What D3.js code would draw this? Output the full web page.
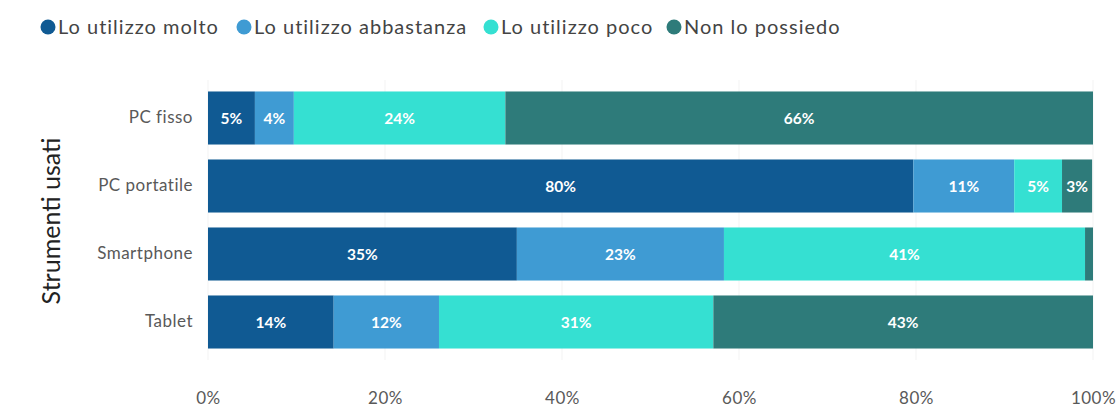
<!DOCTYPE html>
<html><head><meta charset="utf-8">
<script src="https://cdn.jsdelivr.net/npm/d3@7"></script>
<style>body{margin:0;background:#fff}svg{display:block}</style>
</head><body><svg id="c" width="1120" height="408"></svg>
<script>
const categories = ["PC fisso", "PC portatile", "Smartphone", "Tablet"];
const seriesNames = ["Lo utilizzo molto", "Lo utilizzo abbastanza", "Lo utilizzo poco", "Non lo possiedo"];
const molto = [5.3, 79.7, 34.9, 14.2];
const abbastanza = [4.4, 11.4, 23.4, 11.9];
const poco = [23.9, 5.4, 40.8, 31.0];
const nonPossiedo = [66.4, 3.4, 0.9, 42.9];
const xTicks = [0, 20, 40, 60, 80, 100];
const colors = ["#105a93", "#3f9bd3", "#35e0d2", "#2e7b7a"];
const yTitle = "Strumenti usati";

const series = [molto, abbastanza, poco, nonPossiedo];
const font = "Lato, 'Open Sans', sans-serif";
const svg = d3.select("#c");
const x = d3.scaleLinear().domain([0, 100]).range([208, 1093]);
const y = d3.scaleBand().domain(categories).range([84, 356]).paddingInner(0.22).paddingOuter(0.11);

svg.append("g").selectAll("line").data(xTicks).join("line")
  .attr("x1", d => x(d)).attr("x2", d => x(d)).attr("y1", 80).attr("y2", 360)
  .attr("stroke", "#f3f3f3").attr("stroke-width", 1);

const rows = categories.map((c, i) => {
  let acc = 0;
  return series.map((s, k) => { const o = {cat: c, k, v: s[i], x0: acc}; acc += s[i]; o.x1 = acc; return o; });
}).flat();

svg.append("g").selectAll("rect").data(rows).join("rect")
  .attr("x", d => x(d.x0)).attr("width", d => x(d.x1) - x(d.x0))
  .attr("y", d => y(d.cat)).attr("height", y.bandwidth())
  .attr("fill", d => colors[d.k]);

svg.append("g").selectAll("text").data(rows.filter(d => d.v >= 2)).join("text")
  .attr("x", d => (x(d.x0) + x(d.x1)) / 2).attr("y", d => y(d.cat) + y.bandwidth() / 2)
  .attr("dy", "0.36em").attr("text-anchor", "middle")
  .attr("fill", "#fff").attr("font-weight", "bold").attr("font-size", 15.5).attr("font-family", font)
  .text(d => Math.round(d.v) + "%");

const ya = svg.append("g").attr("transform", "translate(201,0)")
  .call(d3.axisLeft(y).tickSize(0).tickPadding(8));
ya.select(".domain").remove();
ya.selectAll("text").attr("font-size", 17).attr("letter-spacing", 0.5).attr("font-family", font).attr("fill", "#595959");

const xa = svg.append("g").attr("transform", "translate(0,384)")
  .call(d3.axisBottom(x).tickValues(xTicks).tickSize(0).tickPadding(8).tickFormat(d => d + "%"));
xa.select(".domain").remove();
xa.selectAll("text").attr("font-size", 17).attr("letter-spacing", 0.5).attr("font-family", font).attr("fill", "#595959");

svg.append("text").attr("transform", "translate(60,221) rotate(-90)")
  .attr("text-anchor", "middle").attr("font-size", 25).attr("font-family", font).attr("fill", "#222")
  .text(yTitle);

const leg = svg.append("g");
const legX = [48, 244, 491, 674];
seriesNames.forEach((n, i) => {
  leg.append("circle").attr("cx", legX[i]).attr("cy", 27).attr("r", 7.5).attr("fill", colors[i]);
  leg.append("text").attr("x", legX[i] + 10).attr("y", 27).attr("dy", "0.36em")
    .attr("font-size", 20).attr("letter-spacing", 1).attr("font-family", font).attr("fill", "#444").text(n);
});
</script></body></html>
